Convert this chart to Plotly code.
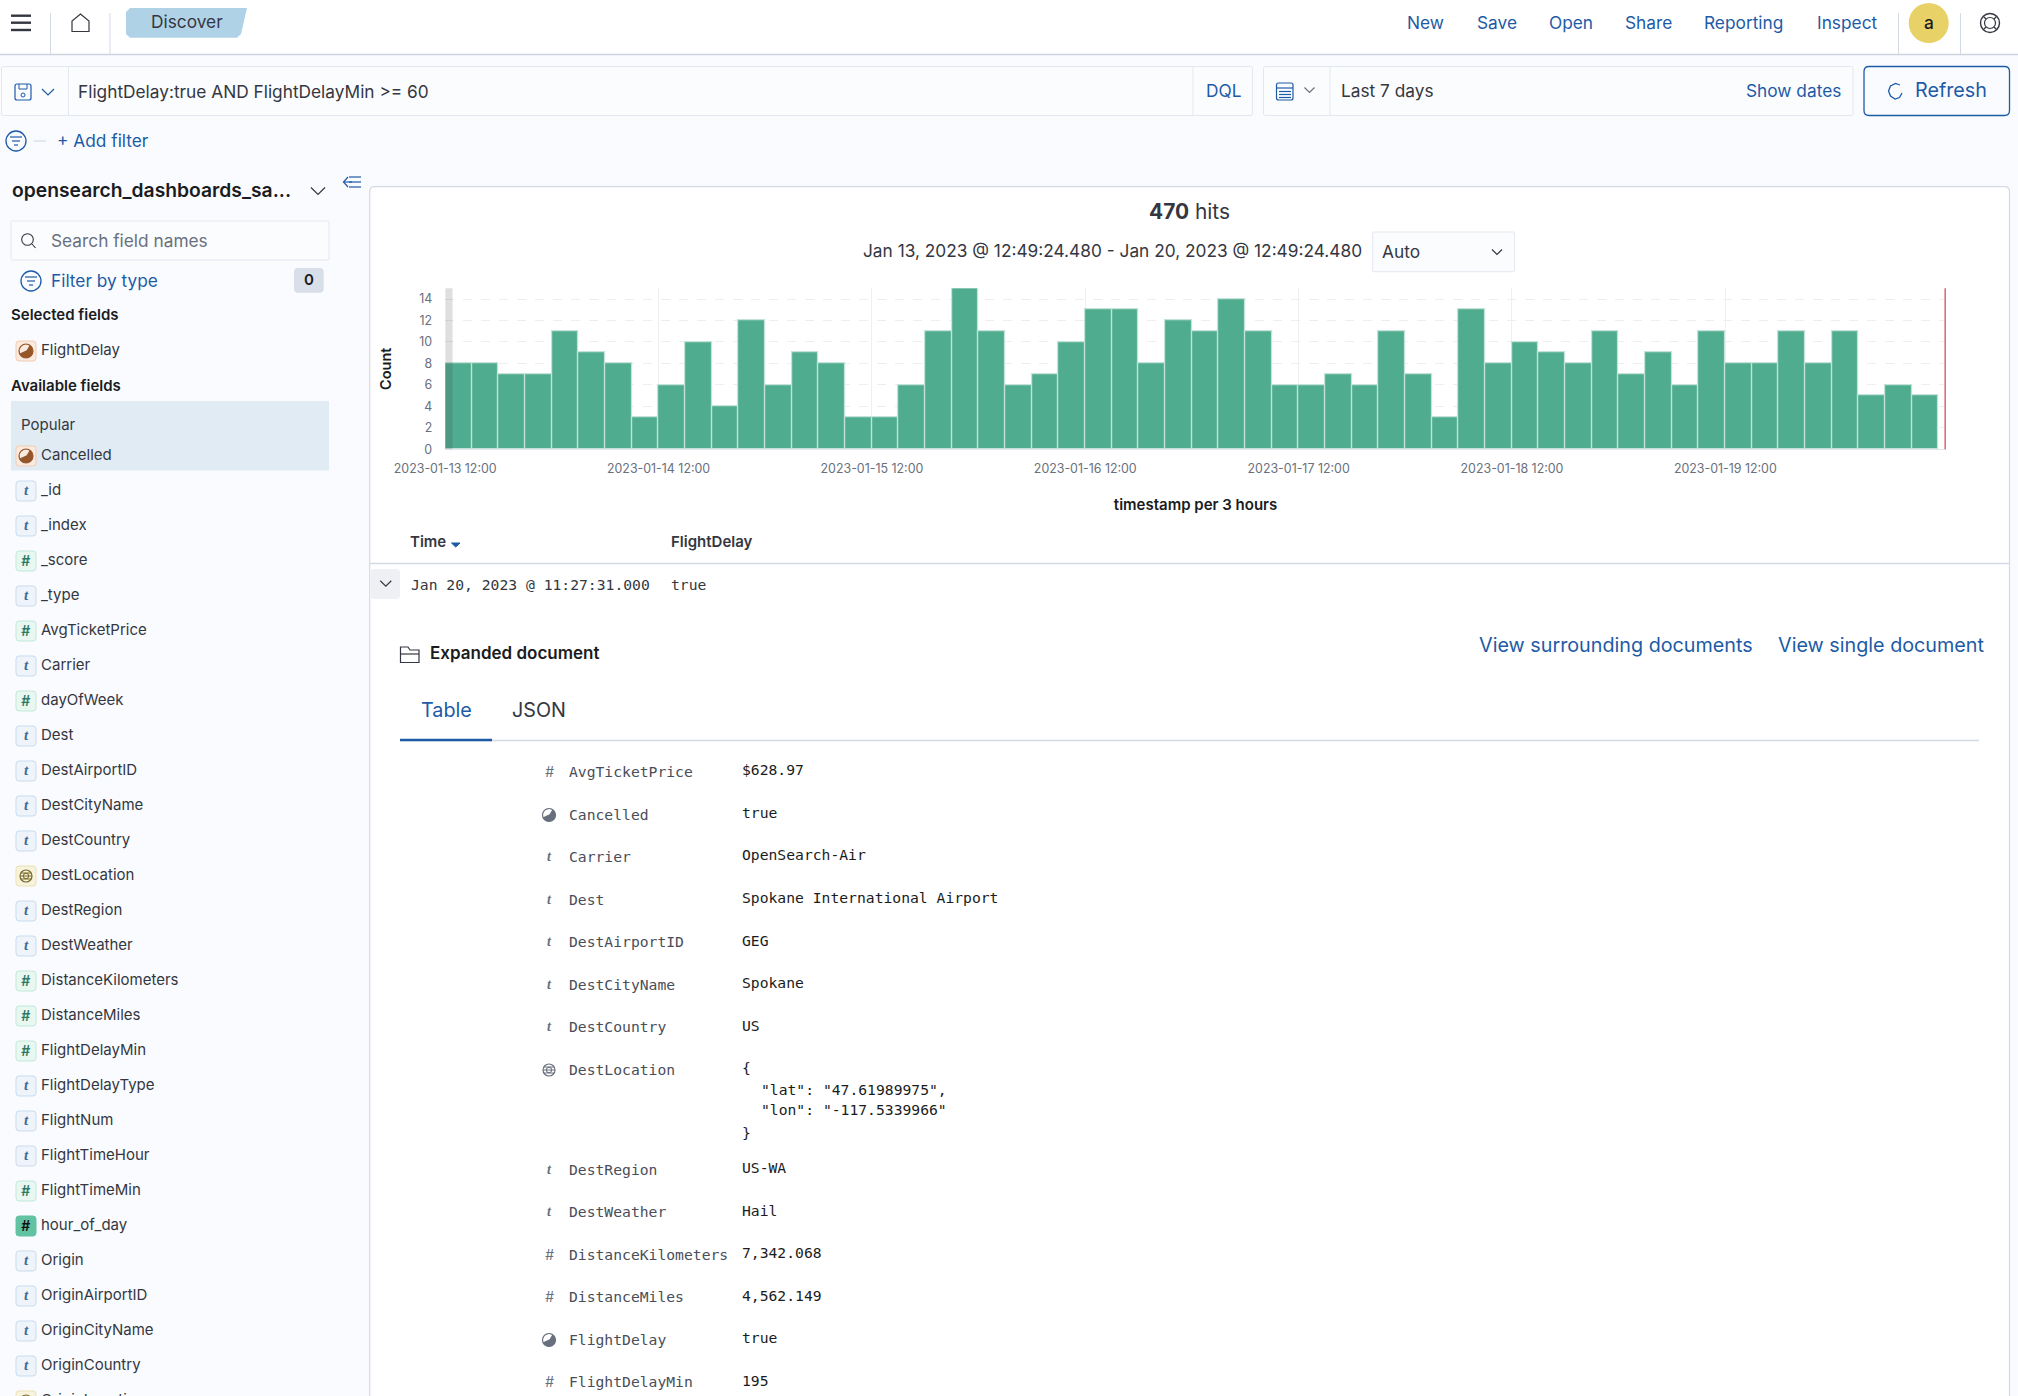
import pandas as pd
import plotly.graph_objects as go

W, H = 2018, 1396

# histogram data
COUNTS = [8, 8, 7, 7, 11, 9, 8, 3, 6, 10, 4, 12, 6, 9, 8, 3, 3, 6, 11, 15, 11, 6, 7, 10, 13, 13, 8, 12,
          11, 14, 11, 6, 6, 7, 6, 11, 7, 3, 13, 8, 10, 9, 8, 11, 7, 9, 6, 11, 8, 8, 11, 8, 11, 5, 6, 5]
BUCKET_START = "2023-01-13 12:00"
BUCKET_HOURS = 3
RANGE_START = "2023-01-13 12:49:24.480"
RANGE_END = "2023-01-20 12:49:24.480"
TICK_DATES = ["2023-01-13 12:00", "2023-01-14 12:00", "2023-01-15 12:00", "2023-01-16 12:00",
              "2023-01-17 12:00", "2023-01-18 12:00", "2023-01-19 12:00"]
Y_TICKS = [0, 2, 4, 6, 8, 10, 12, 14]

# sidebar
FIELDS = ["_id", "_index", "_score", "_type", "AvgTicketPrice", "Carrier", "dayOfWeek", "Dest",
          "DestAirportID", "DestCityName", "DestCountry", "DestLocation", "DestRegion", "DestWeather",
          "DistanceKilometers", "DistanceMiles", "FlightDelayMin", "FlightDelayType", "FlightNum",
          "FlightTimeHour", "FlightTimeMin", "hour_of_day", "Origin", "OriginAirportID", "OriginCityName",
          "OriginCountry", "OriginLocation"]
FIELD_TYPES = ["t", "t", "#", "t", "#", "t", "#", "t", "t", "t", "t", "geo", "t", "t", "#", "#", "#",
               "t", "t", "t", "#", "hot", "t", "t", "t", "t", "geo"]

# expanded document
DOC_FIELDS = ["AvgTicketPrice", "Cancelled", "Carrier", "Dest", "DestAirportID", "DestCityName", "DestCountry",
              "DestLocation", "DestRegion", "DestWeather", "DistanceKilometers", "DistanceMiles", "FlightDelay",
              "FlightDelayMin"]
DOC_TYPES = ["#", "bool", "t", "t", "t", "t", "t", "geo", "t", "t", "#", "#", "bool", "#"]
DOC_VALUES = ["$628.97", "true", "OpenSearch-Air", "Spokane International Airport", "GEG", "Spokane", "US", "{",
              "US-WA", "Hail", "7,342.068", "4,562.149", "true", "195"]
DOC_ROWS_Y = [772, 815, 857, 900, 942.5, 985, 1027.5, 1070, 1170, 1212.5, 1255, 1297.5, 1340, 1382.5]

UI = "Inter, 'Noto Sans', sans-serif"
MONO = "'DejaVu Sans Mono', monospace"
INK = "#343741"
DARK = "#1a1c21"
BLUE = "#1d5ba6"
GREY = "#69707d"
BORDER = "#d3dae6"
PAGE = "#f9fbfe"

SMALL = 15
BODY = 17.3
LARGE = 19.75

shapes = []
notes = []


def px(x):
    return x / W


def py(y):
    return 1 - y / H


def text(x, y, s, size=SMALL, color=INK, anchor="left", font=UI, weight=400):
    notes.append(dict(x=px(x), y=py(y - 0.7), xref="paper", yref="paper", text=s, showarrow=False, xanchor=anchor,
                      yanchor="middle", borderpad=0, borderwidth=0,
                      font=dict(family=font, size=size, color=color, weight=weight)))


def line(x0, y0, x1, y1, color=BORDER, width=1.0):
    shapes.append(dict(type="line", xref="paper", yref="paper", x0=px(x0), y0=py(y0), x1=px(x1), y1=py(y1),
                       line=dict(color=color, width=width), layer="below"))


def poly(points, color=INK, width=1.5, fill=None, close=False):
    d = "M " + " L ".join(f"{px(a):.5f} {py(b):.5f}" for a, b in points) + (" Z" if close else "")
    shapes.append(dict(type="path", xref="paper", yref="paper", path=d, fillcolor=fill or "rgba(0,0,0,0)",
                       line=dict(color=color, width=width), layer="below"))


def box(x0, y0, x1, y1, fill="#fff", edge=None, r=0, width=1.0):
    x_a, x_b, y_a, y_b = px(x0), px(x1), py(y0), py(y1)
    rx, ry = r / W, r / H
    d = (f"M {x_a + rx:.5f} {y_a:.5f} L {x_b - rx:.5f} {y_a:.5f} Q {x_b:.5f} {y_a:.5f} {x_b:.5f} {y_a - ry:.5f} "
         f"L {x_b:.5f} {y_b + ry:.5f} Q {x_b:.5f} {y_b:.5f} {x_b - rx:.5f} {y_b:.5f} "
         f"L {x_a + rx:.5f} {y_b:.5f} Q {x_a:.5f} {y_b:.5f} {x_a:.5f} {y_b + ry:.5f} "
         f"L {x_a:.5f} {y_a - ry:.5f} Q {x_a:.5f} {y_a:.5f} {x_a + rx:.5f} {y_a:.5f} Z")
    shapes.append(dict(type="path", xref="paper", yref="paper", path=d, fillcolor=fill,
                       line=dict(color=edge or fill, width=width if edge else 0), layer="below"))


def circle(cx, cy, r, fill="rgba(0,0,0,0)", edge=None, width=1.3):
    shapes.append(dict(type="circle", xref="paper", yref="paper", x0=px(cx - r), x1=px(cx + r), y0=py(cy - r),
                       y1=py(cy + r), fillcolor=fill, line=dict(color=edge or fill, width=width if edge else 0),
                       layer="below"))


def chevron(x, y, color=INK, size=6):
    poly([(x - size, y - size / 2), (x, y + size / 2), (x + size, y - size / 2)], color=color, width=1.2)


def filter_icon(x, y):
    circle(x, y, 10, edge=BLUE)
    line(x - 6, y - 4, x + 6, y - 4, BLUE, 1.2)
    line(x - 4, y, x + 4, y, BLUE, 1.2)
    line(x - 2, y + 4, x + 2, y + 4, BLUE, 1.2)


def bool_glyph(x, y, r, dark, light):
    circle(x, y, r, fill=dark)
    poly([(x - r * 0.9, y + r * 0.35), (x + r * 0.1, y - r * 0.1), (x + r * 0.5, y - r * 0.8), (x, y - r),
          (x - r * 0.7, y - r * 0.7), (x - r, y - r * 0.1)], color=light, width=0, fill=light, close=True)
    circle(x, y, r, edge=dark, width=1.2)


def geo_glyph(x, y, r, color):
    circle(x, y, r, edge=color, width=1.2)
    line(x - r, y, x + r, y, color, 1)
    line(x - r * 0.85, y - r * 0.5, x + r * 0.85, y - r * 0.5, color, 1)
    line(x - r * 0.85, y + r * 0.5, x + r * 0.85, y + r * 0.5, color, 1)
    circle(x, y, r * 0.45, edge=color, width=1)


def field_badge(y, kind):
    palette = {"t": ("#eef4fa", "#c9dcee", "#3f6d98"), "#": ("#e9f7f1", "#c3e9da", "#2d7a63"),
               "hot": ("#62c3a3", "#62c3a3", "#111"), "geo": ("#f8f3dc", "#ebe1b5", "#77682a"),
               "bool": ("#fbeadf", "#f3cdb3", "#95562a")}
    fill, edge, ink = palette[kind]
    box(16, y - 10, 36, y + 10, fill=fill, edge=edge, r=3)
    if kind == "bool":
        bool_glyph(26, y, 7, ink, "#fbeadf")
    elif kind == "geo":
        geo_glyph(26, y, 6, ink)
    elif kind == "t":
        text(26, y, "<b><i>t</i></b>", 15, ink, "center", "'Liberation Serif', serif")
    else:
        text(26, y, "<i>#</i>", 14, ink, "center", weight=600)


def doc_icon(y, kind):
    if kind == "bool":
        bool_glyph(549, y, 6.5, GREY, "#ffffff")
    elif kind == "geo":
        geo_glyph(549, y, 6, GREY)
    elif kind == "t":
        text(549, y, "<b><i>t</i></b>", 14, GREY, "center", "'Liberation Serif', serif")
    else:
        text(549, y, "<i>#</i>", 14, GREY, "center")


# top bar
box(0, 0, W, 54, fill="#ffffff")
line(0, 54.5, W, 54.5, "#cdd4e0", 1.6)
for x in [50.5, 110, 1898.5, 1960.5]:
    line(x, 13, x, 54, "#d3dae6", 1)
for y in [15.7, 22.7, 30]:
    line(11, y, 31, y, INK, 2.4)
poly([(72, 31.5), (72, 21), (80.5, 14), (89, 21), (89, 31.5)], color=INK, width=1.2, close=True)
poly([(126, 12), (130, 8), (247, 8), (241, 34), (237, 37.7), (130, 37.7), (126, 34)], color="#b0d2e7", width=0,
     fill="#b0d2e7", close=True)
text(151, 22.5, "Discover", BODY, INK)
for x, label in zip([1407, 1476.5, 1548.5, 1624.5, 1704, 1816.5], ["New", "Save", "Open", "Share", "Reporting", "Inspect"]):
    text(x, 23, label, BODY, BLUE)
circle(1928.7, 23, 20, fill="#e8d268")
text(1928.7, 23, "a", BODY, DARK, "center", weight=500)
circle(1990, 23, 9.5, edge=INK, width=1.4)
circle(1990, 23, 5.5, edge=INK, width=1.2)
for a, b in [((1983.5, 16.5), (1986, 19)), ((1996.5, 16.5), (1994, 19)), ((1983.5, 29.5), (1986, 27)),
             ((1996.5, 29.5), (1994, 27))]:
    line(a[0], a[1], b[0], b[1], INK, 1.2)

# query row
box(1.5, 66.5, 1252.5, 115.5, fill="#fbfcfe", edge="#e3e7ef", r=2)
line(68.5, 67, 68.5, 115, "#e3e7ef")
line(1193, 67, 1193, 115, "#e3e7ef")
box(15, 84, 31, 100, fill="rgba(0,0,0,0)", edge=BLUE, r=2, width=1.2)
circle(23, 95, 2, edge=BLUE, width=1)
line(19, 84, 19, 89, BLUE, 1)
line(19, 89, 27, 89, BLUE, 1)
line(27, 84, 27, 89, BLUE, 1)
chevron(48, 92, BLUE)
text(78, 92.5, "FlightDelay:true AND FlightDelayMin >= 60", BODY, INK)
text(1205.5, 91, "DQL", BODY, BLUE)

box(1263.5, 66.5, 1853, 115.5, fill="#fbfcfe", edge="#e3e7ef", r=2)
line(1330, 67, 1330, 115, "#e3e7ef")
box(1276.5, 83, 1293, 100, fill="rgba(0,0,0,0)", edge=BLUE, r=2, width=1.2)
line(1276.5, 88, 1293, 88, BLUE, 1.2)
for yy in [91.5, 94.5, 97.5]:
    line(1279, yy, 1291, yy, BLUE, 1.2)
chevron(1309.5, 90, GREY, 5)
text(1341, 91, "Last 7 days", BODY, INK)
text(1840.5, 91, "Show dates", BODY, BLUE, "right")
box(1864, 66.5, 2009.5, 115.5, fill=PAGE, edge=BLUE, r=5, width=1.3)
poly([(1900, 85), (1895.5, 83.5), (1890.5, 86), (1888.5, 91), (1890.5, 96), (1895, 99), (1899.5, 97.5), (1902, 93)],
     color=BLUE, width=1.3)
text(1914.5, 91, "Refresh", LARGE, BLUE)

# filter row
filter_icon(16, 141)
line(33.5, 141, 46, 141, BORDER, 1.2)
text(57, 141, "+ Add filter", BODY, BLUE)

# sidebar
text(12, 191, "opensearch_dashboards_sa...", 19.3, DARK, weight=600)
chevron(318, 191, INK, 7)
for yy in [177, 182, 187]:
    line(349, yy, 361, yy, BLUE, 1.2)
poly([(348, 177), (343.5, 182), (348, 187)], BLUE, 1.2)
line(343.5, 182, 352, 182, BLUE, 1.2)
box(11, 221, 329, 260, fill="#fbfcfe", edge="#e3e7ef", r=1)
circle(27.5, 239.5, 5.8, edge=INK, width=1.1)
line(32, 244, 35.5, 248, INK, 1.1)
text(51, 241, "Search field names", BODY, GREY)
filter_icon(31, 281)
text(51, 281, "Filter by type", BODY, BLUE)
box(294, 268, 323.7, 292.7, fill="#d9dfe9", r=4)
text(309, 280, "0", SMALL, DARK, "center", weight=600)
text(11, 315.5, "Selected fields", SMALL, DARK, weight=600)
field_badge(351, "bool")
text(41, 350, "FlightDelay", SMALL, INK)
text(11, 386, "Available fields", SMALL, DARK, weight=600)
box(11, 401, 329, 470.5, fill="#e1ebf4")
text(21, 425.5, "Popular", SMALL, INK)
field_badge(456, "bool")
text(41, 455, "Cancelled", SMALL, INK)
for i, (name, kind) in enumerate(zip(FIELDS, FIELD_TYPES)):
    field_badge(491 + 35 * i, kind)
    text(41, 490 + 35 * i, name, SMALL, INK)

# main panel
box(369.7, 186.7, 2009.5, 1420, fill="#ffffff", edge=BORDER, r=5, width=1.2)
text(1189.5, 212, "<b>470</b> hits", 20.9, INK, "center")
text(1361.5, 251.5, "Jan 13, 2023 @ 12:49:24.480 - Jan 20, 2023 @ 12:49:24.480", BODY, INK, "right")
box(1372.7, 232, 1514.5, 271.7, fill="#fbfcfe", edge="#e3e7ef", r=1)
text(1382, 252, "Auto", BODY, INK)
chevron(1497, 252, INK, 5)

# results table
text(410, 542, "Time", SMALL, INK, weight=600)
poly([(451.5, 543), (460, 543), (455.7, 547)], BLUE, 1, BLUE, True)
text(670.5, 542, "FlightDelay", SMALL, INK, weight=600)
line(370, 563.5, 2009, 563.5, BORDER, 1.3)
box(370.5, 569, 400, 599, fill="#eef0f3", r=4)
chevron(385.8, 583.5, INK, 5.5)
text(410.5, 585, "Jan 20, 2023 @ 11:27:31.000", 14.7, INK, font=MONO)
text(670.5, 585, "true", 14.7, INK, font=MONO)

poly([(400.5, 662.5), (400.5, 647), (408, 647), (410, 650), (419, 650), (419, 662.5)], INK, 1.2, close=True)
line(400.5, 654, 419, 654, INK, 1.2)
text(430, 654, "Expanded document", 17, DARK, weight=600)
text(1479.4, 646, "View surrounding documents", LARGE, BLUE)
text(1778.4, 646, "View single document", LARGE, BLUE)
text(420.5, 711, "Table", LARGE, BLUE)
text(511.5, 711, "JSON", LARGE, INK)
line(400, 740.5, 1979, 740.5, BORDER, 1.3)
line(400, 740, 492, 740, BLUE, 2.6)

for y, name, kind, value in zip(DOC_ROWS_Y, DOC_FIELDS, DOC_TYPES, DOC_VALUES):
    doc_icon(y, kind)
    text(569, y, name, 14.7, "#4a4e59", font=MONO)
    text(742, y - 1.5, value, 14.7, DARK, font=MONO)
text(760.5, 1090, '"lat": "47.61989975",', 14.7, DARK, font=MONO)
text(760.5, 1110.5, '"lon": "-117.5339966"', 14.7, DARK, font=MONO)
text(742, 1133, "}", 14.7, DARK, font=MONO)

bucket_x = pd.date_range(BUCKET_START, periods=len(COUNTS), freq=f"{BUCKET_HOURS}h")

fig = go.Figure(go.Bar(
    x=bucket_x,
    y=COUNTS,
    width=BUCKET_HOURS * 3600 * 1000,
    offset=0,
    marker=dict(color="#50ac8f", line=dict(color="#c4e3d8", width=1.3)),
    showlegend=False,
))

# out-of-range band on the left, end of range on the right
shapes.append(dict(type="rect", xref="x", yref="paper", x0=BUCKET_START, x1=RANGE_START,
                   y0=py(449.3), y1=py(288.3), fillcolor="rgba(52,55,65,0.16)", line=dict(width=0), layer="above"))
shapes.append(dict(type="line", xref="x", yref="paper", x0=RANGE_END, x1=RANGE_END, y0=py(449.3), y1=py(288.3),
                   line=dict(color="#dd6f75", width=3.2), layer="above"))

fig.update_layout(
    width=W,
    height=H,
    margin=dict(l=0, r=0, t=0, b=0),
    paper_bgcolor=PAGE,
    plot_bgcolor="rgba(0,0,0,0)",
    bargap=0,
    shapes=shapes,
    annotations=notes,
    xaxis=dict(
        domain=[px(445.2), px(1946)],
        range=[BUCKET_START, RANGE_END],
        type="date",
        automargin=False,
        tickvals=TICK_DATES,
        ticktext=TICK_DATES,
        tickfont=dict(family=UI, size=12.4, color=GREY),
        ticklabelstandoff=8,
        showgrid=True,
        gridcolor="#eef0f4",
        gridwidth=1,
        zeroline=False,
        showline=True,
        linecolor="#e3e6ec",
        title=dict(text="timestamp per 3 hours", standoff=24, font=dict(family=UI, size=15, color=DARK, weight=600)),
    ),
    yaxis=dict(
        domain=[py(449.3), py(288.3)],
        range=[0, 15],
        automargin=False,
        tickvals=Y_TICKS,
        tickfont=dict(family=UI, size=12.4, color=GREY),
        ticklabelstandoff=12,
        showgrid=True,
        gridcolor="#eceef2",
        griddash="dash",
        gridwidth=1,
        zeroline=False,
        showline=False,
        title=dict(text="Count", standoff=24, font=dict(family=UI, size=14.5, color=DARK, weight=600)),
    ),
)

fig.write_html("out.html", config=dict(displayModeBar=False),
               post_script="document.body.style.margin='0';document.body.style.overflow='hidden';")
